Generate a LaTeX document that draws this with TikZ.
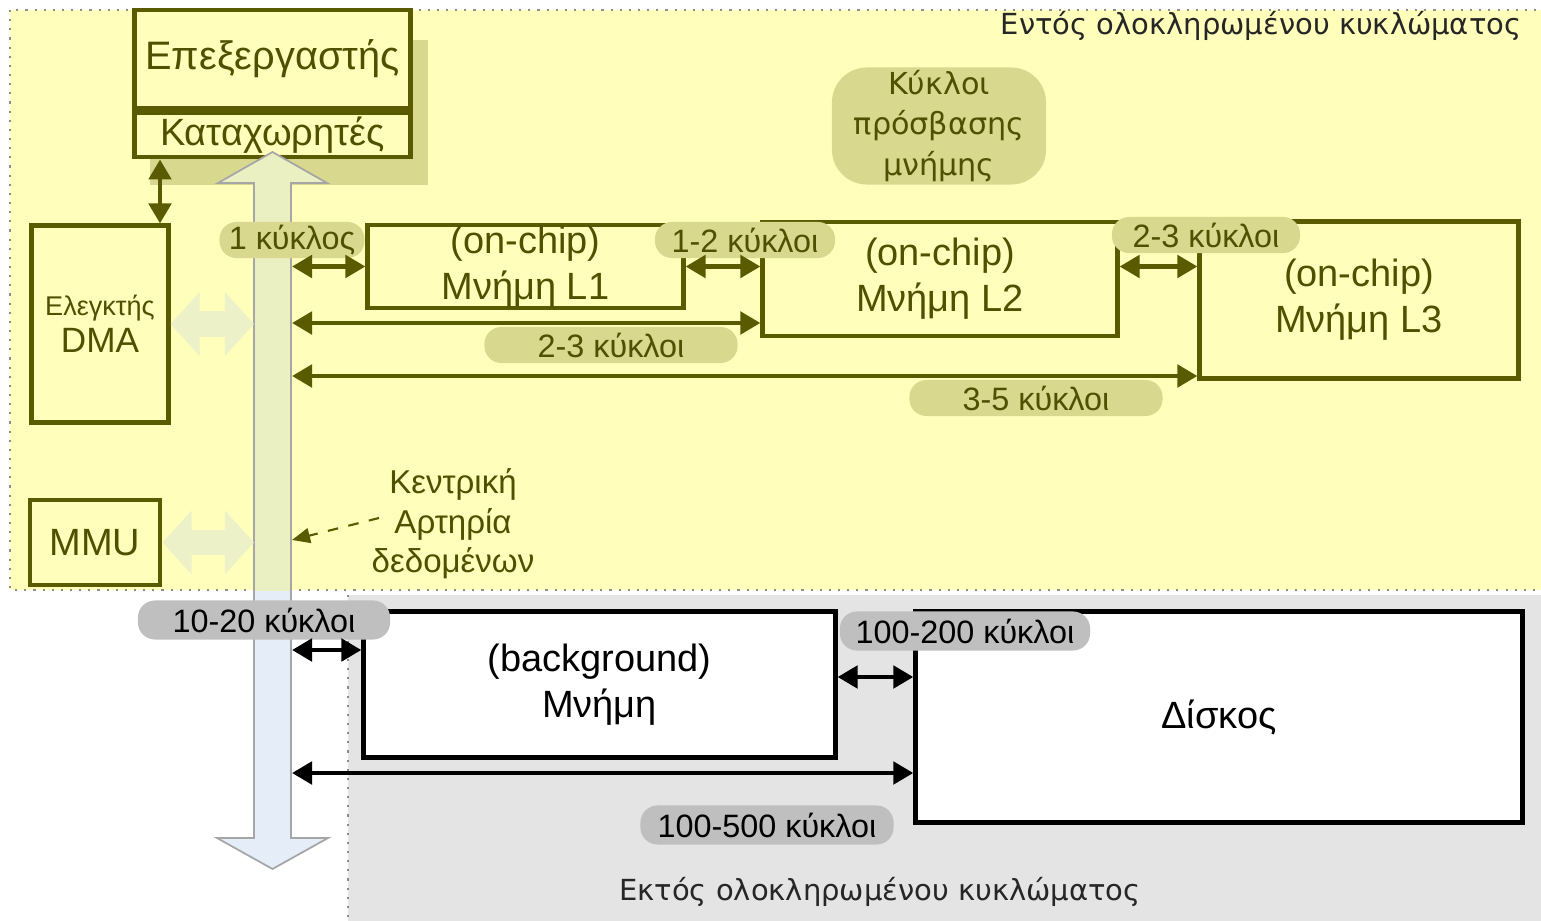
\documentclass[tikz,border=0pt]{standalone}
\usepackage{fontspec}
\setmainfont{Liberation Sans}
\newfontfamily\labelfont{DejaVu Sans}
\usetikzlibrary{arrows.meta,calc,positioning}
\definecolor{chipyellow}{HTML}{FFFFBB}
\definecolor{olivedark}{HTML}{5A5A00}
\definecolor{olivetext}{HTML}{505000}
\definecolor{pilltan}{HTML}{D8D88E}
\definecolor{pillgray}{HTML}{BFBFBF}
\definecolor{offgray}{HTML}{E4E4E4}
\definecolor{busgreen}{HTML}{EBF0C3}
\definecolor{busblue}{HTML}{E5EDF8}
\definecolor{palegreen}{HTML}{EDF1C8}
\newcommand{\buspath}{(272.5,-152) -- (327,-183) -- (291,-183) -- (291,-838) -- (328,-838) -- (272.5,-869) -- (217,-838) -- (254,-838) -- (254,-183) -- (218,-183) -- cycle}
\tikzset{
  zone/.style={draw=black!45, dotted, line width=0.6pt},
  titletext/.style={font=\labelfont\fontsize{8.25}{10}\selectfont, text=black!85, inner sep=0pt},
  chipbox/.style={draw=olivedark, line width=1.4pt, fill=chipyellow, text=olivetext, align=center, inner sep=0pt, font=\fontsize{10.8}{13}\selectfont},
  offbox/.style={chipbox, draw=black, fill=white, text=black},
  chippill/.style={fill=pilltan, text=olivetext, rounded corners=0.17cm, inner sep=0pt, minimum height=0.36cm, font=\fontsize{9.2}{11}\selectfont},
  offpill/.style={chippill, fill=pillgray, text=black, minimum height=0.39cm},
  chiplink/.style={olivedark, line width=1.4pt, {Triangle[length=0.2cm,width=0.22cm]}-{Triangle[length=0.2cm,width=0.22cm]}},
  offlink/.style={chiplink, black},
  palelink/.style={palegreen, line width=0.25cm, {Triangle[length=0.29cm,width=0.62cm]}-{Triangle[length=0.29cm,width=0.62cm]}},
  notelink/.style={olivedark, dashed, line width=0.6pt, -{Triangle[length=0.18cm,width=0.15cm]}}
}
\begin{document}
\begin{tikzpicture}[x=0.01cm, y=0.01cm]
  \useasboundingbox (0,0) rectangle (1541,-921);
  % inside / outside the chip
  \draw[zone, fill=chipyellow] (10,-10) rectangle (1560,-590);
  \fill[offgray] (348,-595) rectangle (1560,-940);
  \draw[zone] (348,-595) -- (348,-921);
  \node[titletext, anchor=east] (inside) at (1522,-26) {Εντός ολοκληρωμένου κυκλώματος};
  \node[titletext] (outside) at (880,-892) {Εκτός ολοκληρωμένου κυκλώματος};

  % processor
  \fill[pilltan] (150,-40) rectangle (428,-185);
  \node[chipbox, minimum width=2.75cm, minimum height=0.98cm, font=\fontsize{11.3}{13}\selectfont] (cpu) at (272.5,-59) {Επεξεργαστής};
  \node[chipbox, minimum width=2.75cm, minimum height=0.44cm, below=0pt of cpu] (regs) {Καταχωρητές};

  % data bus
  \fill[busblue] \buspath;
  \begin{scope}
    \clip (0,0) rectangle (1541,-590);
    \fill[busgreen] \buspath;
  \end{scope}
  \draw[black!35, line width=0.5pt] \buspath;
  \coordinate (busL) at (254,0);
  \coordinate (busR) at (292,0);

  % on-chip blocks
  \node[chipbox, minimum width=1.36cm, minimum height=1.96cm, font=\fontsize{10}{10.5}\selectfont] (DMA) at (100,-324) {{\fontsize{7.7}{9}\selectfont Ελεγκτής}\\DMA};
  \node[chipbox, minimum width=1.3cm, minimum height=0.85cm] (MMU) at (95,-542.5) {MMU};
  \node[chipbox, minimum width=3.15cm, minimum height=0.83cm] (L1) at (525.5,-266.5) {(on-chip)\\Μνήμη L1};
  \node[chipbox, minimum width=3.54cm, minimum height=1.14cm] (L2) at (940,-279) {(on-chip)\\Μνήμη L2};
  \node[chipbox, minimum width=3.18cm, minimum height=1.56cm] (L3) at (1359,-300) {(on-chip)\\Μνήμη L3};

  % off-chip blocks
  \node[offbox, minimum width=4.71cm, minimum height=1.45cm] (mem) at (599.5,-684.5) {(background)\\Μνήμη};
  \node[offbox, minimum width=6.06cm, minimum height=2.1cm] (disk) at (1219,-717) {Δίσκος};

  % access cycles
  \node[chippill, minimum width=2.14cm, minimum height=1.17cm, rounded corners=0.35cm, align=center, font=\labelfont\fontsize{8.6}{11.4}\selectfont] (cycles) at (939,-126) {Κύκλοι\\πρόσβασης\\μνήμης};
  \node[chippill, minimum width=1.45cm] (c1) at (292,-240) {1 κύκλος};
  \node[chippill, minimum width=1.8cm] (c12) at (745,-240) {1-2 κύκλοι};
  \node[chippill, minimum width=1.88cm] (c23a) at (1206,-235) {2-3 κύκλοι};
  \node[chippill, minimum width=2.53cm] (c23b) at (611,-345) {2-3 κύκλοι};
  \node[chippill, minimum width=2.53cm] (c35) at (1036,-398) {3-5 κύκλοι};
  \node[offpill, minimum width=2.52cm] (c1020) at (264,-620) {10-20 κύκλοι};
  \node[offpill, minimum width=2.5cm] (c100200) at (965,-631) {100-200 κύκλοι};
  \node[offpill, minimum width=2.53cm] (c100500) at (767,-825) {100-500 κύκλοι};

  \node[align=center, text=olivetext, inner sep=0pt, font=\fontsize{9.4}{11.2}\selectfont] (note) at (453,-524) {Κεντρική\\Αρτηρία\\δεδομένων};

  % links
  \draw[chiplink] (regs.south -| 160,0) -- (DMA.north -| 160,0);
  \draw[palelink] (DMA.east) -- (busL |- DMA.east);
  \draw[palelink] (MMU.east) -- (busL |- MMU.east);
  \draw[chiplink] (busR |- L1.west) -- (L1.west);
  \draw[chiplink] (L1.east) -- (L1.east -| L2.west);
  \draw[chiplink] (L2.east |- L1.east) -- (L3.west |- L1.east);
  \draw[chiplink] (busR |- 0,-323) -- (L2.west |- 0,-323);
  \draw[chiplink] (busR |- 0,-376) -- (L3.west |- 0,-376);
  \draw[offlink] (busR |- 0,-650) -- (mem.west |- 0,-650);
  \draw[offlink] (mem.east |- 0,-677) -- (disk.west |- 0,-677);
  \draw[offlink] (busR |- 0,-773) -- (disk.west |- 0,-773);
  \draw[notelink] ([xshift=0.08cm,yshift=0.06cm]note.west) -- (busR |- 0,-540);
\end{tikzpicture}
\end{document}
